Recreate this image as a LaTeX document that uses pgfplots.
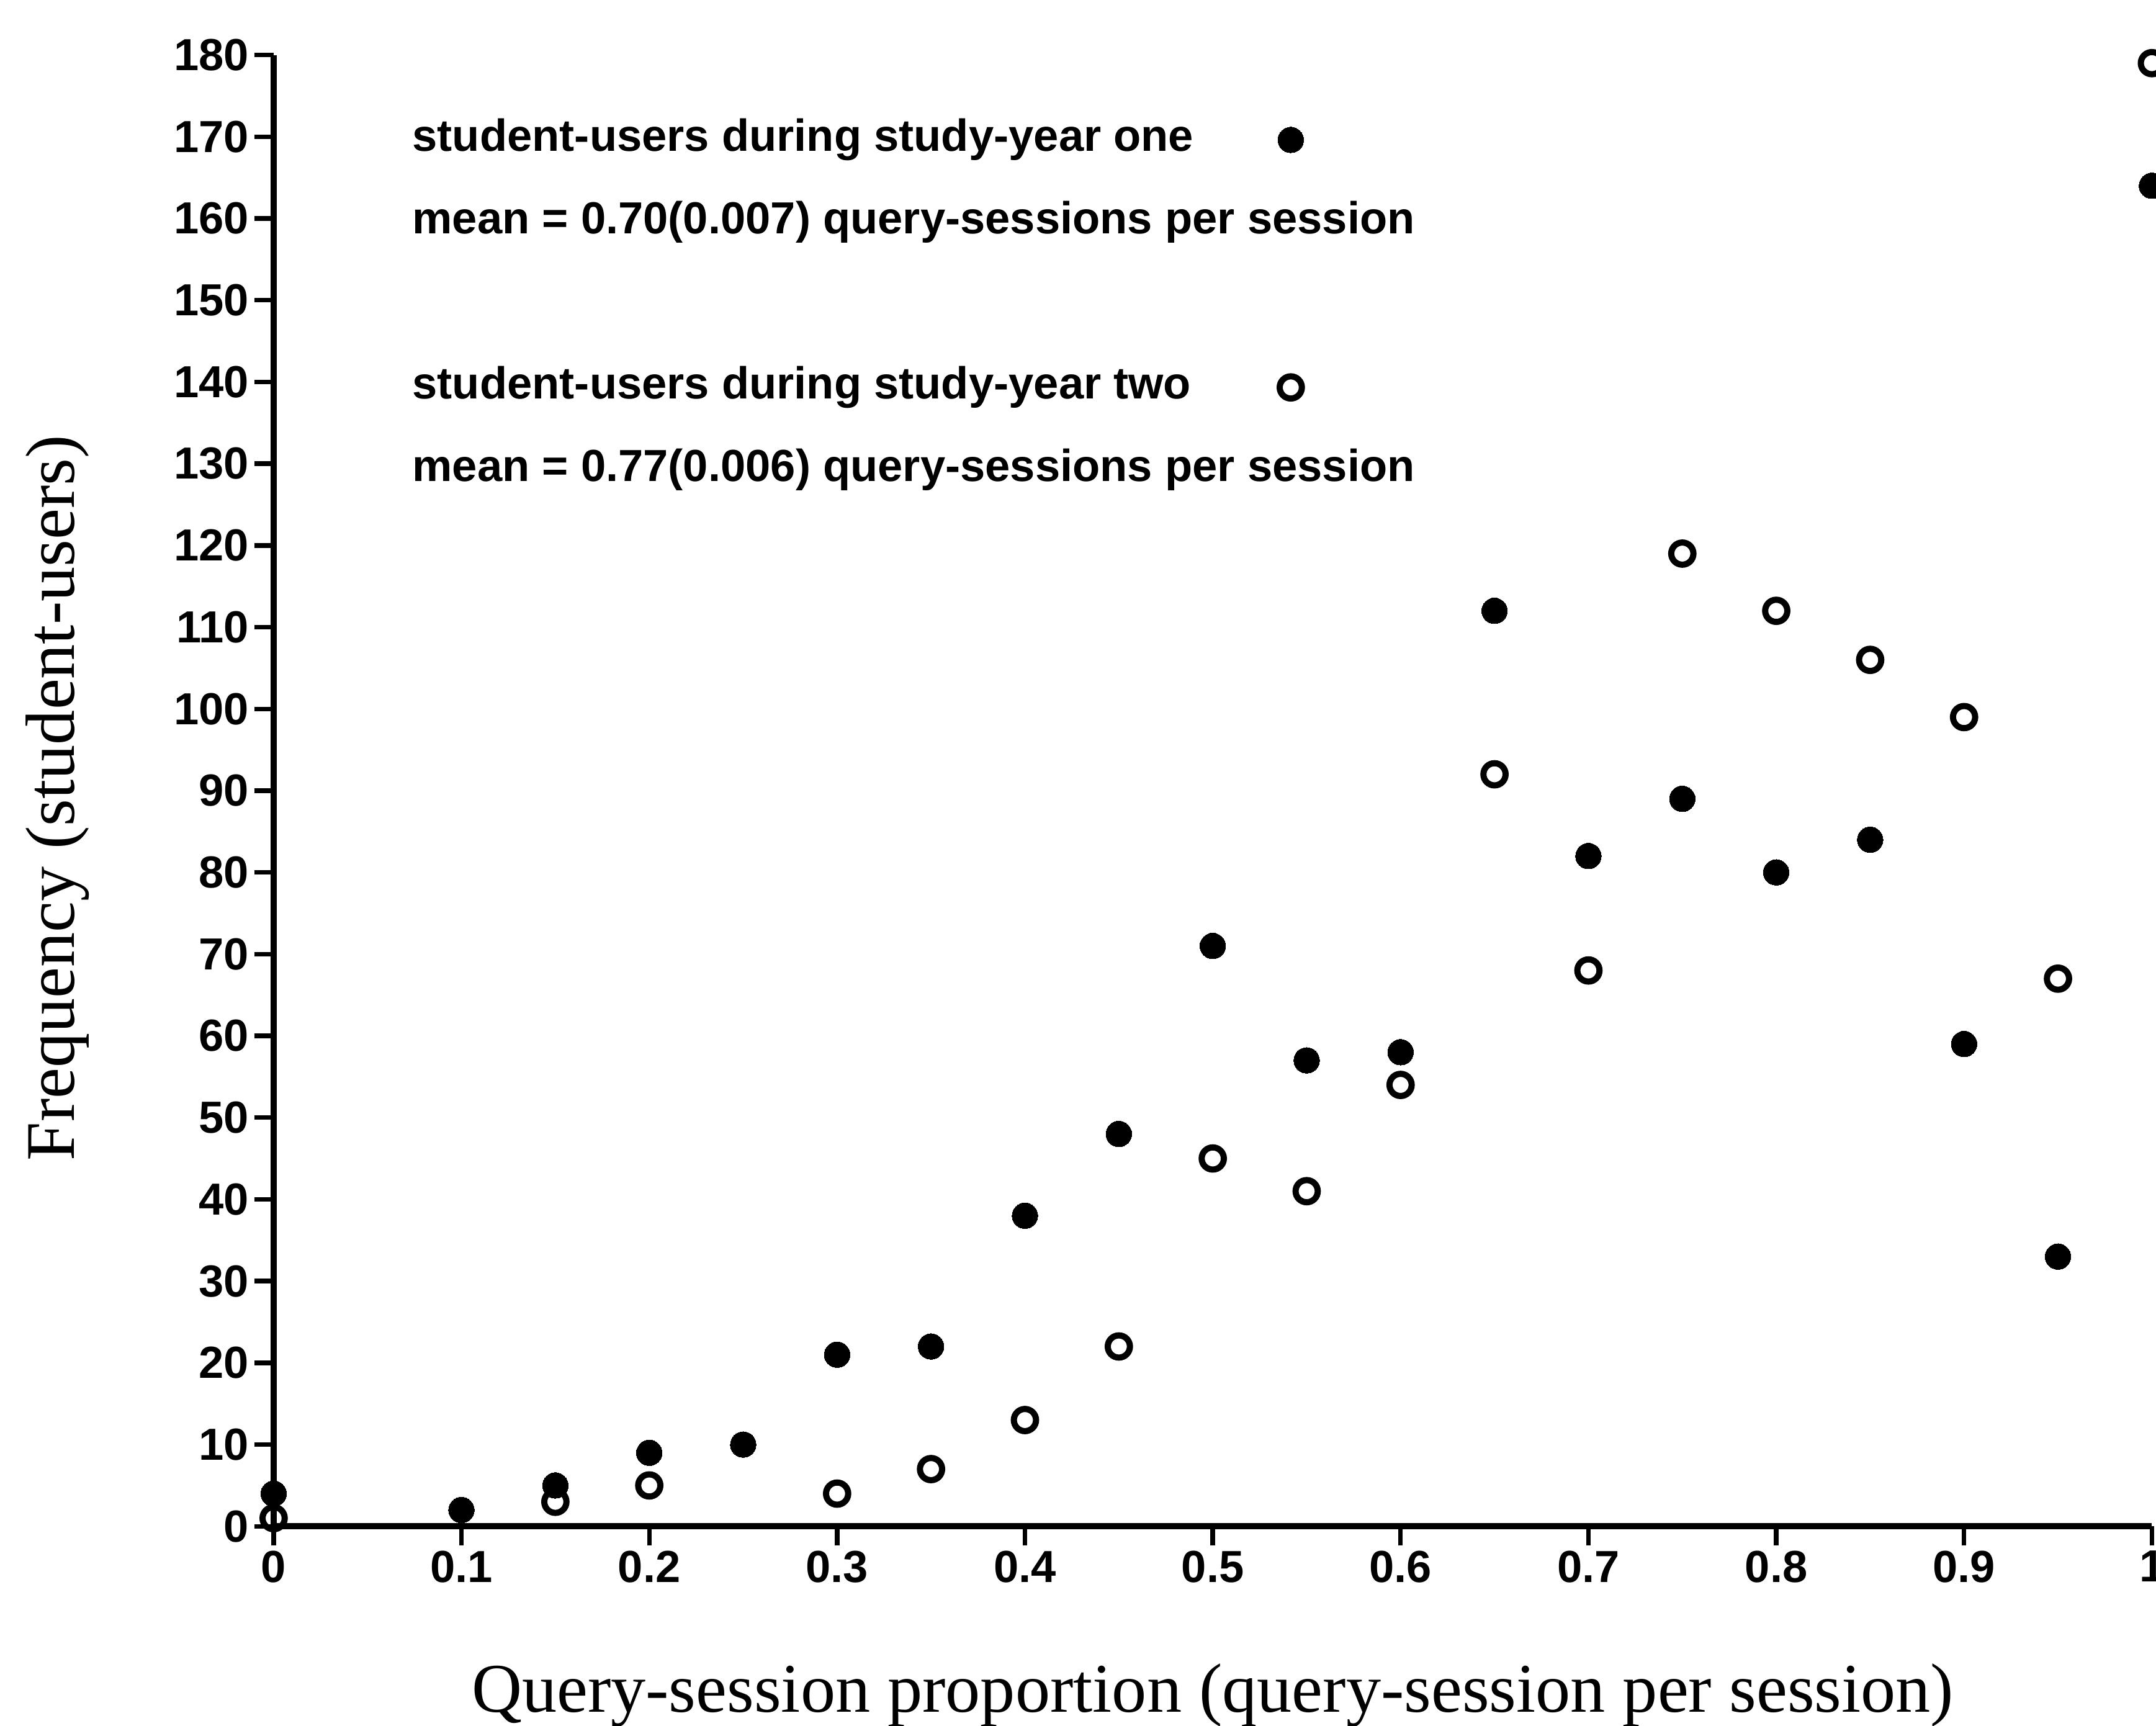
\documentclass[border=0pt]{standalone}
\usepackage{fontspec}
\setmainfont{Liberation Sans}
\newfontfamily\labelfont{Liberation Serif}
\usepackage{pgfplots}
\pgfplotsset{compat=1.18}

% frequency of student-users by query-session proportion
\pgfplotstableread{
x     y
0     4
0.10  2
0.15  5
0.20  9
0.25  10
0.30  21
0.35  22
0.40  38
0.45  48
0.50  71
0.55  57
0.60  58
0.65  112
0.70  82
0.75  89
0.80  80
0.85  84
0.90  59
0.95  33
1.00  164
}\yearone
\pgfplotstableread{
x     y
0     1
0.15  3
0.20  5
0.30  4
0.35  7
0.40  13
0.45  22
0.50  45
0.55  41
0.60  54
0.65  92
0.70  68
0.75  119
0.80  112
0.85  106
0.90  99
0.95  67
1.00  179
}\yeartwo

\begin{document}
\begin{tikzpicture}
\begin{axis}[
  scale only axis, width=409.8pt, height=321pt,
  xmin=0, xmax=1, ymin=0, ymax=180,
  axis x line*=bottom, axis y line*=left,
  axis line style={line width=1.4pt, -},
  xtick={0,0.1,0.2,0.3,0.4,0.5,0.6,0.7,0.8,0.9,1},
  xticklabels={0,0.1,0.2,0.3,0.4,0.5,0.6,0.7,0.8,0.9,1},
  ytick={0,10,...,180},
  minor tick num=0,
  tick align=outside, major tick length=4.2pt,
  every tick/.style={black, line width=1pt},
  tick label style={font=\fontsize{9.8}{11}\selectfont\bfseries, inner sep=1pt},
  /pgf/number format/assume math mode=true,
  clip=false,
  xlabel={Query-session proportion (query-session per session)},
  ylabel={Frequency (student-users)},
  every axis x label/.style={at={(axis description cs:0.5,-0.115)}, anchor=center,
    font=\labelfont\fontsize{15.2}{17}\selectfont},
  every axis y label/.style={at={(axis description cs:-0.1149,0.495)}, anchor=center, rotate=90,
    font=\labelfont\fontsize{15.2}{17}\selectfont},
  legend plot pos=right,
  legend cell align=left,
  legend image code/.code={\path (0pt,-2pt) (17pt,2pt);
    \draw[#1] plot coordinates {(8.54pt,0pt)};},
  legend style={at={(axis description cs:0.0739,0.9563)}, anchor=north west,
    draw=none, fill=none, inner sep=0pt, outer sep=0pt,
    row sep=9pt, column sep=0pt,
    font=\fontsize{9.8}{11}\selectfont\bfseries,
    nodes={inner sep=0pt, text height=7pt, text depth=2pt}},
]
\addplot[only marks, mark=*, mark size=2.8pt, mark options={fill=black, draw=black, line width=0pt}]
  table[x=x, y=y] {\yearone};
\addlegendentry{\makebox[182.9pt][l]{student-users during study-year one}}
\addlegendimage{empty legend}
\addlegendentry{\makebox[182.9pt][l]{mean = 0.70(0.007) query-sessions per session}}
\addlegendimage{empty legend}
\addlegendentry{\makebox[182.9pt][l]{}}
\addplot[only marks, mark=o, mark size=2.42pt, mark options={draw=black, line width=1.35pt, fill=white}]
  table[x=x, y=y] {\yeartwo};
\addlegendentry{\makebox[182.9pt][l]{student-users during study-year two}}
\addlegendimage{empty legend}
\addlegendentry{\makebox[182.9pt][l]{mean = 0.77(0.006) query-sessions per session}}
\end{axis}
\pgfresetboundingbox
\useasboundingbox (-59.7pt,-43.5pt) rectangle (410.7pt,333pt);
\end{tikzpicture}
\end{document}
